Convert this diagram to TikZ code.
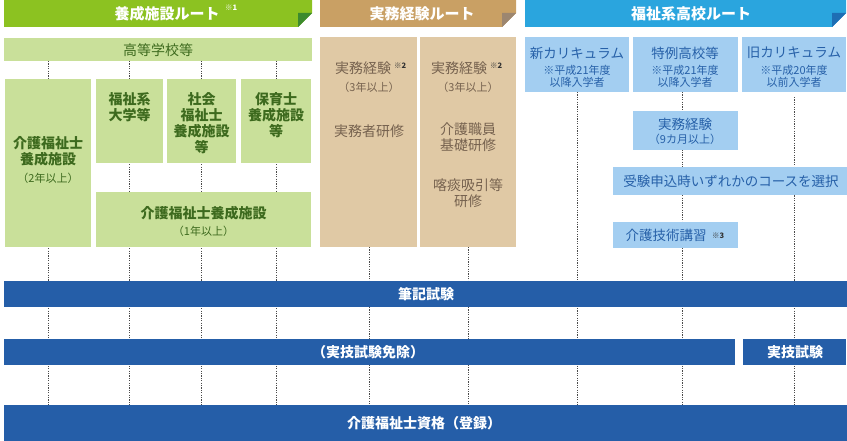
\documentclass[tikz,border=0pt]{standalone}
\usepackage{fontspec}
\setmainfont{Noto Sans CJK JP}
\usetikzlibrary{backgrounds}
\definecolor{greenH}{HTML}{8CC221}
\definecolor{greenFold}{HTML}{3C8A2E}
\definecolor{greenL}{HTML}{C9E09A}
\definecolor{greenT}{HTML}{3D6A1E}
\definecolor{brownH}{HTML}{C9A064}
\definecolor{brownFold}{HTML}{9C8670}
\definecolor{brownL}{HTML}{E0C9A5}
\definecolor{brownT}{HTML}{76624F}
\definecolor{blueH}{HTML}{2AA5DE}
\definecolor{blueFold}{HTML}{1E6EB4}
\definecolor{blueL}{HTML}{A3CEF1}
\definecolor{blueT}{HTML}{2660A8}
\definecolor{navy}{HTML}{255EA8}
\definecolor{dotc}{HTML}{4A4A4A}
\tikzset{
  box/.style={anchor=north west, inner sep=0pt, outer sep=0pt, draw=none},
  gbox/.style={box, fill=greenL},
  bbox/.style={box, fill=brownL},
  lbox/.style={box, fill=blueL},
  nbox/.style={box, fill=navy},
  htext/.style={text=white, font=\fontsize{15}{17}\selectfont\bfseries, inner sep=0pt},
  gtext/.style={text=greenT, align=center, font=\fontsize{14}{16}\selectfont\bfseries, inner sep=0pt},
  gsmall/.style={text=greenT, font=\fontsize{11}{13}\selectfont, inner sep=0pt},
  btext/.style={text=brownT, align=center, font=\fontsize{14}{16}\selectfont, inner sep=0pt},
  bsmall/.style={text=brownT, font=\fontsize{11}{13}\selectfont, inner sep=0pt},
  ltext/.style={text=blueT, align=center, font=\fontsize{13.5}{16}\selectfont\bfseries, inner sep=0pt},
  lsmall/.style={text=blueT, align=center, font=\fontsize{11}{12}\selectfont, inner sep=0pt},
  ntext/.style={text=white, font=\fontsize{14}{16}\selectfont\bfseries, inner sep=0pt},
  note/.style={font=\fontsize{7.5}{8}\selectfont\bfseries, inner sep=0pt},
  dotline/.style={draw=dotc, line width=0.8pt, dash pattern=on 1.2pt off 1.2pt},
}
\begin{document}
\begin{tikzpicture}[x=1pt,y=-1pt]
\useasboundingbox (0,0) rectangle (847,441);
% headers
\fill[greenH] (4,0) -- (312,0) -- (312,13) -- (298,27) -- (4,27) -- cycle;
\fill[greenFold] (298,13) -- (312,13) -- (298,27) -- cycle;
\node[htext] (hG) at (167,14) {養成施設ルート};
\node[note, text=white, anchor=west] (hGn) at (225,8) {※1};
\fill[brownH] (320,0) -- (516,0) -- (516,13) -- (502,27) -- (320,27) -- cycle;
\fill[brownFold] (502,13) -- (516,13) -- (502,27) -- cycle;
\node[htext] (hB) at (422,14) {実務経験ルート};
\fill[blueH] (525,0) -- (846,0) -- (846,13) -- (832,27) -- (525,27) -- cycle;
\fill[blueFold] (832,13) -- (846,13) -- (832,27) -- cycle;
\node[htext] (hL) at (691,14) {福祉系高校ルート};

% green section
\node[gbox, minimum width=308pt, minimum height=23pt] (koko) at (4,38) {};
\node[gtext, font=\fontsize{14}{16}\selectfont] at (158,50) {高等学校等};
\node[gbox, minimum width=86pt, minimum height=168pt] (yosei2) at (5,79) {};
\node[gbox, minimum width=67pt, minimum height=84pt] (fukudai) at (96,79) {};
\node[gbox, minimum width=69pt, minimum height=84pt] (shakai) at (167,79) {};
\node[gbox, minimum width=70pt, minimum height=84pt] (hoiku) at (241,79) {};
\node[gbox, minimum width=215pt, minimum height=55pt] (yosei1) at (96,192) {};
\node[gtext] (t1) at (48,151) {介護福祉士\\養成施設};
\node[gsmall] (t1s) at (48,178) {（2年以上）};
\node[gtext] (t2) at (129.5,107) {福祉系\\大学等};
\node[gtext] (t3) at (201.5,123) {社会\\福祉士\\養成施設\\等};
\node[gtext] (t4) at (276,115) {保育士\\養成施設\\等};
\node[gtext] (t5) at (203.5,213) {介護福祉士養成施設};
\node[gsmall] (t5s) at (203.5,231) {（1年以上）};

% brown section
\node[bbox, minimum width=97pt, minimum height=210pt] (jitsu1) at (320,37) {};
\node[bbox, minimum width=96pt, minimum height=210pt] (jitsu2) at (420,37) {};
\node[btext] (b1) at (363,68) {実務経験};
\node[note, text=black!80, anchor=west] at (394,66) {※2};
\node[bsmall] at (369,87) {（3年以上）};
\node[btext] at (369,131) {実務者研修};
\node[btext] (b2) at (459,68) {実務経験};
\node[note, text=black!80, anchor=west] at (490,66) {※2};
\node[bsmall] at (468,87) {（3年以上）};
\node[btext] at (468,137) {介護職員\\基礎研修};
\node[btext] at (468,193) {喀痰吸引等\\研修};

% blue section
\node[lbox, minimum width=104pt, minimum height=55pt] (shin) at (525,37) {};
\node[lbox, minimum width=105pt, minimum height=55pt] (tokurei) at (633,37) {};
\node[lbox, minimum width=104pt, minimum height=55pt] (kyu) at (742,37) {};
\node[ltext, font=\fontsize{13.5}{16}\selectfont] at (577,53) {新カリキュラム};
\node[lsmall] at (577,76) {※平成21年度\\以降入学者};
\node[ltext, font=\fontsize{13.5}{16}\selectfont] at (685,53) {特例高校等};
\node[lsmall] at (685,76) {※平成21年度\\以降入学者};
\node[ltext, font=\fontsize{13.5}{16}\selectfont] at (794,53) {旧カリキュラム};
\node[lsmall] at (794,76) {※平成20年度\\以前入学者};
\node[lbox, minimum width=105pt, minimum height=39pt] (keiken) at (633,111) {};
\node[ltext, font=\fontsize{13.5}{16}\selectfont] at (685,124) {実務経験};
\node[lsmall] at (685,139) {（9カ月以上）};
\node[lbox, minimum width=234pt, minimum height=28pt] (sentaku) at (613,167) {};
\node[ltext, font=\fontsize{13.5}{16}\selectfont] at (731,181) {受験申込時いずれかのコースを選択};
\node[lbox, minimum width=125pt, minimum height=26pt] (koshu) at (613,222) {};
\node[ltext, font=\fontsize{13.5}{16}\selectfont] at (666,235) {介護技術講習};
\node[note, text=black!80, anchor=west] at (712,236) {※3};

% navy bars
\node[nbox, minimum width=843pt, minimum height=26pt] (hikki) at (4,281) {};
\node[ntext] at (426,294) {筆記試験};
\node[nbox, minimum width=731pt, minimum height=26pt] (menjo) at (4,339) {};
\node[ntext] at (368,352) {（実技試験免除）};
\node[nbox, minimum width=103pt, minimum height=26pt] (jitsugi) at (743,339) {};
\node[ntext] at (795,352) {実技試験};
\node[nbox, minimum width=843pt, minimum height=36pt] (shikaku) at (4,405) {};
\node[ntext] at (424,423) {介護福祉士資格（登録）};

% dotted connectors
\coordinate (c1) at (48,0);
\coordinate (c2) at (129.5,0);
\coordinate (c3) at (201.5,0);
\coordinate (c4) at (276,0);
\coordinate (c5) at (369,0);
\coordinate (c6) at (468,0);
\coordinate (c7) at (577,0);
\coordinate (c8) at (682,0);
\coordinate (c9) at (794,0);
\begin{pgfonlayer}{background}
\foreach \c in {c1,c2,c3,c4}{
  \draw[dotline] (koko.south -| \c) -- (shikaku.north -| \c);
}
\draw[dotline] (jitsu1.south -| c5) -- (shikaku.north -| c5);
\draw[dotline] (jitsu2.south -| c6) -- (shikaku.north -| c6);
\draw[dotline] (shin.south -| c7) -- (shikaku.north -| c7);
\draw[dotline] (tokurei.south -| c8) -- (shikaku.north -| c8);
\draw[dotline] ([yshift=-5pt]kyu.south -| c9) -- (shikaku.north -| c9);
\end{pgfonlayer}
\end{tikzpicture}
\end{document}
